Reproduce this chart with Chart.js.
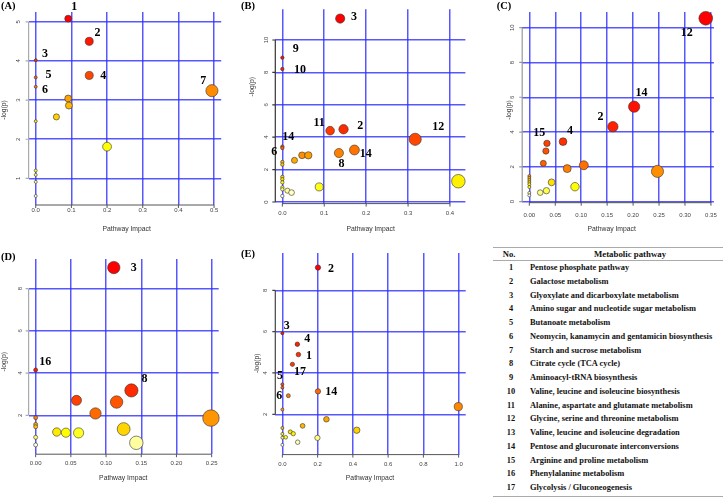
<!DOCTYPE html>
<html>
<head>
<meta charset="utf-8">
<script src="https://cdn.jsdelivr.net/npm/chart.js@4"></script>
<style>
  body { margin: 0; width: 723px; height: 497px; background: #fff; position: relative; overflow: hidden; }
  canvas { position: absolute; }
  .rule { position: absolute; left: 493px; width: 230px; height: 0; border-top: 1px solid #aaa; }
  .cell { position: absolute; height: 10px; line-height: 10px; white-space: nowrap;
          font: bold 8.4px "Liberation Serif", "Times New Roman", serif; color: #111; }
</style>
</head>
<body>
<canvas id="cA" width="240" height="240" style="left:0;top:0"></canvas>
<canvas id="cB" width="240" height="240" style="left:240px;top:0"></canvas>
<canvas id="cC" width="243" height="240" style="left:480px;top:0"></canvas>
<canvas id="cD" width="240" height="252" style="left:0;top:245px"></canvas>
<canvas id="cE" width="240" height="252" style="left:240px;top:245px"></canvas>
<div id="tbl"></div>
<script>
// ---- data (pathway impact, -log(p)) ----
const impactA = [0.091, 0.150, 0, 0.150, 0, 0, 0.494, 0.091, 0.093, 0.058, 0, 0.200, 0, 0, 0, 0];
const logpA   = [5.08, 4.50, 4.02, 3.63, 3.58, 3.34, 3.24, 3.04, 2.86, 2.57, 2.46, 1.81, 1.20, 1.09, 0.91, 0.55];
const tagsA   = [[0, "1"], [1, "2"], [2, "3"], [3, "4"], [4, "5"], [5, "6"], [6, "7"]];
const xTicksA = ["0.0", "0.1", "0.2", "0.3", "0.4", "0.5"];
const yTicksA = ["1", "2", "3", "4", "5"];

const impactB = [0.138, 0, 0, 0.146, 0.114, 0.317, 0, 0, 0.172, 0.135, 0.047, 0.062, 0.029,
                 0, 0, 0, 0, 0.420, 0, 0.088, 0, 0, 0.012, 0.022, 0];
const logpB   = [11.32, 8.91, 8.21, 4.49, 4.40, 3.87, 3.42, 3.33, 3.21, 3.02, 2.88, 2.88, 2.57,
                 2.47, 2.31, 1.55, 1.40, 1.28, 1.21, 0.93, 0.90, 0.78, 0.70, 0.58, 0.37];
const tagsB   = [[0, "3"], [1, "9"], [2, "10"], [3, "2"], [4, "11"], [5, "12"], [6, "14"], [7, "6"], [8, "14"], [9, "8"]];
const xTicksB = ["0.0", "0.1", "0.2", "0.3", "0.4"];
const yTicksB = ["0", "2", "4", "6", "8", "10"];

const impactC = [0.340, 0.202, 0.161, 0.065, 0.034, 0.032, 0.027, 0.105, 0.073, 0.247, 0, 0,
                 0, 0, 0.043, 0, 0.088, 0, 0.033, 0.021, 0, 0];
const logpC   = [10.54, 5.46, 4.31, 3.45, 3.35, 2.91, 2.20, 2.09, 1.90, 1.74, 1.47, 1.36,
                 1.24, 1.12, 1.11, 1.00, 0.86, 0.84, 0.63, 0.52, 0.50, 0.36];
const tagsC   = [[0, "12"], [1, "14"], [2, "2"], [3, "4"], [4, "15"]];
const xTicksC = ["0.00", "0.05", "0.10", "0.15", "0.20", "0.25", "0.30", "0.35"];
const yTicksC = ["0", "2", "4", "6", "8", "10"];

const impactD = [0.111, 0, 0.136, 0.058, 0.115, 0.085, 0.249, 0, 0, 0, 0.125, 0.030, 0.043, 0.061, 0, 0.143, 0];
const logpD   = [9.00, 4.15, 3.18, 2.71, 2.63, 2.09, 1.87, 1.89, 1.57, 1.46, 1.35, 1.21, 1.18, 1.17, 0.96, 0.70, 0.60];
const tagsD   = [[0, "3"], [1, "16"], [2, "8"]];
const xTicksD = ["0.00", "0.05", "0.10", "0.15", "0.20", "0.25"];
const yTicksD = ["2", "4", "6", "8"];

const impactE = [0.202, 0, 0.085, 0.091, 0.057, 0, 0, 0.202, 0.034, 0.998, 0, 0.250, 0.115,
                 0, 0.422, 0.045, 0.062, 0, 0.019, 0, 0.199, 0.087, 0];
const logpE   = [9.10, 5.92, 5.39, 4.89, 4.42, 3.45, 3.29, 3.11, 2.90, 2.37, 2.23, 1.76, 1.44,
                 1.34, 1.23, 1.15, 1.06, 1.05, 0.89, 0.87, 0.86, 0.65, 0.52];
const tagsE   = [[0, "2"], [1, "3"], [2, "4"], [3, "1"], [4, "17"], [5, "5"], [8, "6"], [7, "14"]];
const xTicksE = ["0.0", "0.2", "0.4", "0.6", "0.8", "1.0"];
const yTicksE = ["2", "4", "6", "8"];

const pathwayNo = ["1", "2", "3", "4", "5", "6", "7", "8", "9", "10", "11", "12", "13", "14", "15", "16", "17"];
const pathwayNames = [
  "Pentose phosphate pathway",
  "Galactose metabolism",
  "Glyoxylate and dicarboxylate metabolism",
  "Amino sugar and nucleotide sugar metabolism",
  "Butanoate metabolism",
  "Neomycin, kanamycin and gentamicin biosynthesis",
  "Starch and sucrose metabolism",
  "Citrate cycle (TCA cycle)",
  "Aminoacyl-tRNA biosynthesis",
  "Valine, leucine and isoleucine biosynthesis",
  "Alanine, aspartate and glutamate metabolism",
  "Glycine, serine and threonine metabolism",
  "Valine, leucine and isoleucine degradation",
  "Pentose and glucuronate interconversions",
  "Arginine and proline metabolism",
  "Phenylalanine metabolism",
  "Glycolysis / Gluconeogenesis",
];

// ---- layout per panel (canvas-local pixels) ----
const GRID = "rgba(45,45,255,0.8)";
const SERIF = "'Liberation Serif', 'Times New Roman', serif";
const SANS = "'Liberation Sans', Arial, sans-serif";

const PANELS = [
  { id: "cA", letter: "(A)", w: 240, h: 240, area: [28.6, 12, 221.2, 205],
    xMin: -0.02, xMax: 0.52, yMin: 0.32, yMax: 5.25, r0: 1.5, rk: 6.5,
    impact: impactA, logp: logpA, tags: tagsA, xTicks: xTicksA, yTicks: yTicksA,
    tagOff: [[6, -12], [8.3, -8.7], [9.3, -6.7], [14, 0], [12.7, -2.3], [9.3, 2.7], [-8.7, -10]],
    yAxisColor: "#aaa", yLabX: 18.3, yTitle: [4, 110], xLabY: 210.7, xTitle: [126.7, 229.3], letterAt: [1, 6] },
  { id: "cB", letter: "(B)", w: 240, h: 240, area: [35.3, 9.2, 225.4, 203.6],
    xMin: -0.0168, xMax: 0.4368, yMin: -0.1, yMax: 11.9, r0: 1.7, rk: 7.8,
    impact: impactB, logp: logpB, tags: tagsB, xTicks: xTicksB, yTicks: yTicksB,
    tagOff: [[13.7, -1.3], [13.3, -8.7], [17.7, 1], [16.7, -3.3], [-11, -7.3], [23, -12], [6, -10], [-8, 3.7], [11.3, 4.3], [2.7, 11.3]],
    yAxisColor: "#333", yLabX: 26, yTitle: [12.3, 86.7], xLabY: 213.3, xTitle: [130.7, 229.3], letterAt: [1, 6] },
  { id: "cC", letter: "(C)", w: 243, h: 240, area: [42.2, 12.0, 233.9, 202.7],
    xMin: -0.0137, xMax: 0.3557, yMin: -0.06, yMax: 10.9, r0: 1.5, rk: 9.2,
    impact: impactC, logp: logpC, tags: tagsC, xTicks: xTicksC, yTicks: yTicksC,
    tagOff: [[-19, 14.3], [7.3, -13.7], [-12.3, -9.3], [7, -11], [-7.7, -10]],
    yAxisColor: "#999", yLabX: 32.3, yTitle: [29.3, 110], xLabY: 215, xTitle: [131.7, 229.3], letterAt: [16.7, 6] },
  { id: "cD", letter: "(D)", w: 240, h: 252, area: [28.6, 14.1, 218.7, 209.2],
    xMin: -0.01, xMax: 0.26, yMin: 0.16, yMax: 9.4, r0: 2, rk: 12.5,
    impact: impactD, logp: logpD, tags: tagsD, xTicks: xTicksD, yTicks: yTicksD,
    tagOff: [[20, 0.7], [9.7, -7.7], [13, -11.7]],
    yAxisColor: "#aaa", yLabX: 20.7, yTitle: [4, 116.7], xLabY: 218.3, xTitle: [123.3, 232.7], letterAt: [1, 12.7] },
  { id: "cE", letter: "(E)", w: 240, h: 252, area: [35.3, 8.1, 225.7, 209.6],
    xMin: -0.04, xMax: 1.04, yMin: 0.05, yMax: 9.8, r0: 1.5, rk: 2.6,
    impact: impactE, logp: logpE, tags: tagsE, xTicks: xTicksE, yTicks: yTicksE,
    tagOff: [[13, 1.3], [4.3, -7.7], [10, -5], [10.7, 1], [7.7, 8], [-2.3, -8.7], [-9, 0], [13.3, 0.3]],
    yAxisColor: "#444", yLabX: 25, yTitle: [16.7, 118.3], xLabY: 219, xTitle: [130, 233.3], letterAt: [1, 9.3] },
];

// R's heat.colors(n): red -> yellow, then fading yellow -> white
function heatColors(n) {
  const j = Math.floor(n / 4), i = n - j, out = [];
  for (let k = 0; k < i; k++) {
    const g = i > 1 ? Math.round(255 * k / (i - 1)) : 0;
    out.push(`rgb(255,${g},0)`);
  }
  for (let k = 0; k < j; k++) {
    const s0 = 1 - 1 / (2 * j), s1 = 1 / (2 * j);
    const s = j > 1 ? s0 + (s1 - s0) * k / (j - 1) : s0;
    out.push(`rgb(255,255,${Math.round(255 * (1 - s))})`);
  }
  return out;
}

function axisOpts(min, max, labels, horiz) {
  return {
    type: "linear", min, max, bounds: "data",
    ticks: { display: false },
    border: { display: false },
    grid: { color: GRID, lineWidth: 1.5, drawTicks: false },
    afterBuildTicks: (s) => { s.ticks = labels.map((t) => ({ value: parseFloat(t) })); },
    afterFit: (s) => { if (horiz) s.height = 0; else s.width = 0; },
  };
}

// R-style axes, titles and pathway numbers
function rLook(p) {
  return {
    id: "rlook",
    afterDatasetsDraw(chart) {
      const ctx = chart.ctx, xs = chart.scales.x, ys = chart.scales.y, a = chart.chartArea;
      const meta = chart.getDatasetMeta(0);
      const xv = p.xTicks.map(Number), yv = p.yTicks.map(Number);
      ctx.save();

      ctx.strokeStyle = p.yAxisColor; ctx.lineWidth = 1.2;
      ctx.beginPath();
      ctx.moveTo(a.left, ys.getPixelForValue(yv[0]));
      ctx.lineTo(a.left, ys.getPixelForValue(yv[yv.length - 1]));
      yv.forEach((v) => { const py = ys.getPixelForValue(v); ctx.moveTo(a.left, py); ctx.lineTo(a.left - 3, py); });
      ctx.stroke();

      ctx.strokeStyle = "#555"; ctx.lineWidth = 1;
      ctx.beginPath();
      ctx.moveTo(xs.getPixelForValue(xv[0]), a.bottom);
      ctx.lineTo(xs.getPixelForValue(xv[xv.length - 1]), a.bottom);
      xv.forEach((v) => { const px = xs.getPixelForValue(v); ctx.moveTo(px, a.bottom); ctx.lineTo(px, a.bottom + 3); });
      ctx.stroke();

      ctx.fillStyle = "#444"; ctx.textAlign = "center"; ctx.textBaseline = "middle";
      ctx.font = `6px ${SANS}`;
      p.xTicks.forEach((t, k) => ctx.fillText(t, xs.getPixelForValue(xv[k]), p.xLabY));
      p.yTicks.forEach((t, k) => {
        ctx.save();
        ctx.translate(p.yLabX, ys.getPixelForValue(yv[k]));
        ctx.rotate(-Math.PI / 2);
        ctx.fillText(t, 0, 0);
        ctx.restore();
      });

      ctx.fillStyle = "#333"; ctx.font = `6.8px ${SANS}`;
      ctx.fillText("Pathway Impact", p.xTitle[0], p.xTitle[1]);
      ctx.save();
      ctx.translate(p.yTitle[0], p.yTitle[1]);
      ctx.rotate(-Math.PI / 2);
      ctx.fillText("-log(p)", 0, 0);
      ctx.restore();

      ctx.fillStyle = "#000"; ctx.font = `bold 12px ${SERIF}`;
      p.tags.forEach(([i, txt], k) => {
        const el = meta.data[i];
        ctx.fillText(txt, el.x + p.tagOff[k][0], el.y + p.tagOff[k][1]);
      });

      ctx.textAlign = "left"; ctx.font = `bold 10.5px ${SERIF}`;
      ctx.fillText(p.letter, p.letterAt[0], p.letterAt[1]);
      ctx.restore();
    },
  };
}

function makePanel(p) {
  const order = p.logp.map((v, i) => i).sort((a, b) => p.logp[b] - p.logp[a]);
  const heat = heatColors(p.logp.length);
  const fills = [];
  order.forEach((idx, rank) => { fills[idx] = heat[rank]; });
  const pts = p.impact.map((x, i) => ({ x, y: p.logp[i], r: p.r0 + p.rk * Math.sqrt(x) }));
  const [l, t, r, b] = p.area;
  return new Chart(document.getElementById(p.id).getContext("2d"), {
    type: "bubble",
    data: { datasets: [{ data: pts, backgroundColor: fills, borderColor: "#333", borderWidth: 0.6, clip: false }] },
    options: {
      responsive: false, animation: false, devicePixelRatio: 1, events: [],
      layout: { padding: { left: l, top: t, right: p.w - r, bottom: p.h - b } },
      plugins: { legend: { display: false }, tooltip: { enabled: false } },
      scales: { x: axisOpts(p.xMin, p.xMax, p.xTicks, true), y: axisOpts(p.yMin, p.yMax, p.yTicks, false) },
    },
    plugins: [rLook(p)],
  });
}

PANELS.forEach(makePanel);

// ---- pathway table ----
(function buildTable() {
  const tbl = document.getElementById("tbl");
  function add(cls, style, text) {
    const d = document.createElement("div");
    d.className = cls; d.setAttribute("style", style);
    if (text !== undefined) d.textContent = text;
    tbl.appendChild(d);
  }
  add("rule", "top:247px");
  add("rule", "top:260px");
  add("rule", "top:496px");
  add("cell", "left:498px;width:22px;text-align:center;top:249px;font-size:8.6px", "No.");
  add("cell", "left:560px;width:140px;text-align:center;top:249px;font-size:8.8px", "Metabolic pathway");
  pathwayNames.forEach((name, k) => {
    const top = 268.2 + k * 13.75 - 5;
    add("cell", `left:501px;width:20px;text-align:center;top:${top}px`, pathwayNo[k]);
    add("cell", `left:530px;top:${top}px`, name);
  });
})();
</script>
</body>
</html>
